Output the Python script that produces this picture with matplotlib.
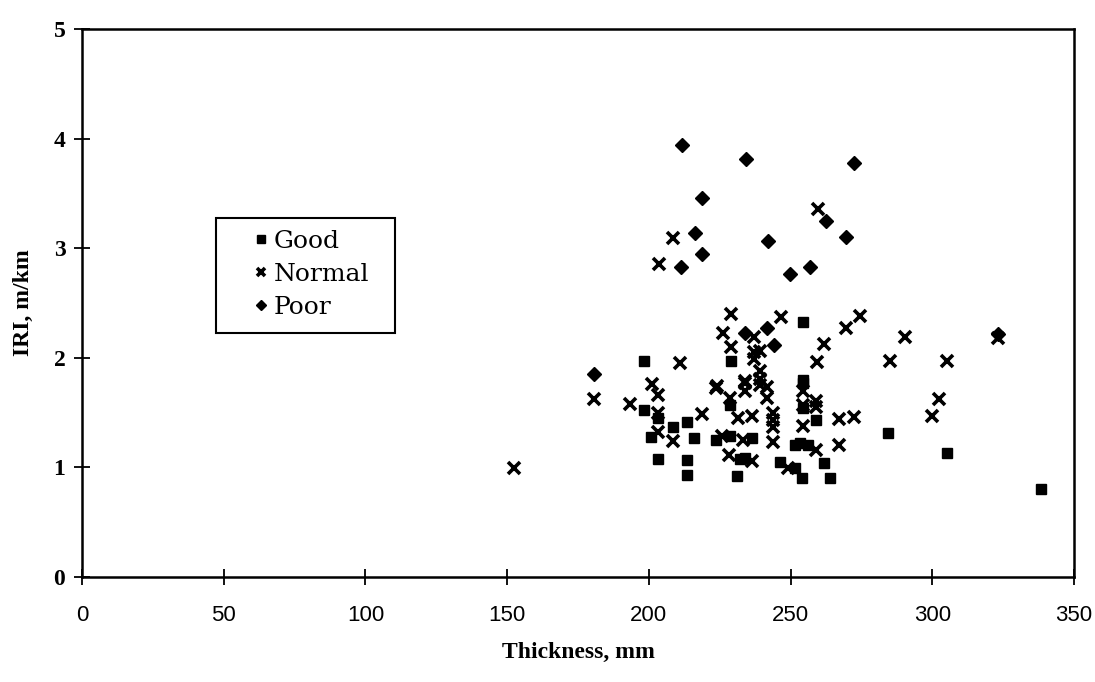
import matplotlib
matplotlib.use("Agg")
import matplotlib.pyplot as plt
from matplotlib.patches import Rectangle

# IRI vs thickness
good_x = [198.4, 203.3, 200.8, 208.6, 203.3, 213.6, 213.6, 213.6, 228.7, 254.5,
          254.5, 259.1, 216.0, 223.8, 228.7, 236.5, 251.7, 253.4, 256.3, 232.3,
          234.0, 246.4, 251.7, 261.6, 231.2, 254.1, 264.0, 198.4, 254.5, 229.1,
          254.5, 284.5, 305.0, 338.2]
good_y = [1.52, 1.45, 1.28, 1.37, 1.08, 1.41, 1.07, 0.93, 1.57, 1.77,
          1.54, 1.43, 1.27, 1.25, 1.29, 1.27, 1.20, 1.22, 1.20, 1.08,
          1.09, 1.05, 0.99, 1.04, 0.92, 0.90, 0.90, 1.97, 2.33, 1.97,
          1.80, 1.31, 1.13, 0.80]

normal_x = [152.5, 180.7, 193.4, 201.2, 203.3, 203.3, 203.3, 208.6, 223.8, 234.0,
            234.0, 239.3, 241.8, 241.8, 228.7, 254.5, 254.5, 259.1, 259.1, 218.8,
            231.6, 236.5, 243.9, 243.9, 243.9, 254.5, 266.9, 272.2, 225.9, 233.3,
            243.9, 259.1, 266.9, 228.4, 236.5, 248.9, 211.1, 229.1, 246.7, 274.6,
            269.7, 226.3, 236.9, 229.1, 261.9, 236.9, 239.3, 236.9, 259.4, 239.3,
            224.1, 234.0, 239.3, 259.8, 208.6, 203.7, 290.2, 323.0, 284.9, 305.3,
            302.5, 300.0]
normal_y = [0.99, 1.62, 1.58, 1.76, 1.66, 1.50, 1.32, 1.24, 1.72, 1.77,
            1.70, 1.75, 1.73, 1.63, 1.63, 1.70, 1.57, 1.61, 1.55, 1.49,
            1.45, 1.47, 1.50, 1.43, 1.37, 1.38, 1.44, 1.46, 1.29, 1.25,
            1.23, 1.16, 1.20, 1.11, 1.06, 0.99, 1.95, 2.40, 2.37, 2.38,
            2.27, 2.23, 2.19, 2.10, 2.13, 2.05, 2.06, 1.99, 1.96, 1.88,
            1.74, 1.79, 1.81, 3.36, 3.09, 2.86, 2.19, 2.18, 1.97, 1.97,
            1.62, 1.47]

poor_x = [180.7, 234.0, 241.8, 244.3, 211.8, 234.4, 272.5, 218.8, 262.3, 216.4,
          242.1, 269.7, 218.8, 211.4, 257.0, 249.6, 323.0]
poor_y = [1.85, 2.23, 2.27, 2.12, 3.94, 3.81, 3.78, 3.46, 3.25, 3.14,
          3.07, 3.10, 2.95, 2.83, 2.83, 2.76, 2.22]

x_ticks = [0, 50, 100, 150, 200, 250, 300, 350]
y_ticks = [0, 1, 2, 3, 4, 5]

serif = ["Liberation Serif", "DejaVu Serif"]

fig = plt.figure(figsize=(10.95, 6.82), dpi=100)
ax = fig.add_axes([0.0749, 0.154, 0.906, 0.8035])

ax.plot(good_x, good_y, ls="none", marker="s", ms=7.5, color="black", label="Good")
ax.plot(normal_x, normal_y, ls="none", marker="x", ms=8, mew=2.6, color="black", label="Normal")
ax.plot(poor_x, poor_y, ls="none", marker="D", ms=7, color="black", label="Poor")

ax.set_xlim(0, 350)
ax.set_ylim(0, 5)
ax.set_xticks(x_ticks)
ax.set_yticks(y_ticks)
ax.set_xticklabels([str(t) for t in x_ticks], family=["Liberation Sans", "DejaVu Sans"], fontsize=16)
ax.set_yticklabels([str(t) for t in y_ticks], family=serif, fontsize=17, fontweight="bold")
ax.tick_params(axis="both", direction="inout", length=12, width=1.3, color="black")
ax.tick_params(axis="x", pad=14)
ax.tick_params(axis="y", pad=6)
for s in ax.spines.values():
    s.set_linewidth(1.8)

ax.set_xlabel("Thickness, mm", family=serif, fontsize=17, fontweight="bold", labelpad=12)
ax.set_ylabel("IRI, m/km", family=serif, fontsize=17, fontweight="bold", labelpad=14)

# legend box is wider than its contents in the original, so draw the frame separately
ax.add_patch(Rectangle((0.135, 0.445), 0.1805, 0.21, transform=ax.transAxes,
                       fill=False, lw=1.5, edgecolor="black", zorder=5))
ax.legend(loc="upper left", bbox_to_anchor=(0.1729, 0.634), borderaxespad=0,
          borderpad=0, prop={"family": "DejaVu Serif", "size": 18}, markerscale=0.8,
          handlelength=0.6, handletextpad=0.2, labelspacing=0.40, frameon=False)

fig.savefig("out.png", dpi=100, facecolor="white")
